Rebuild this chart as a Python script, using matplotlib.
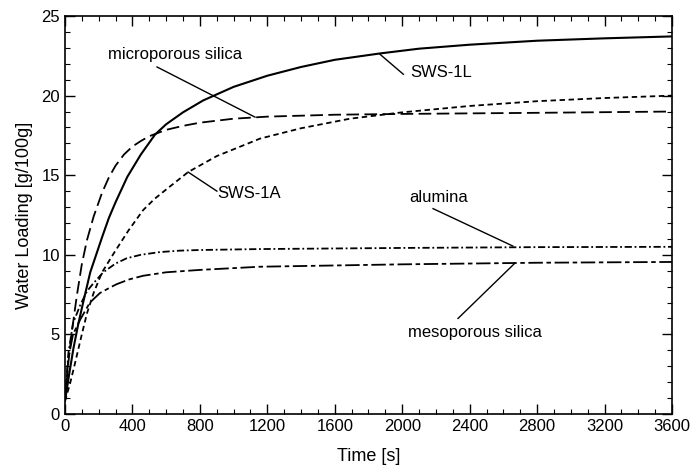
import matplotlib
matplotlib.use("Agg")
import matplotlib.pyplot as plt
from matplotlib.ticker import MultipleLocator

plt.rcParams['font.family'] = ['Liberation Sans', 'DejaVu Sans']

# SWS-1L
t_sws1l = [0, 25, 50, 80, 110, 150, 185, 220, 260, 300, 370, 450, 534, 600, 700, 820, 1000, 1200, 1400, 1600, 1868, 2100, 2400, 2800, 3200, 3600]
y_sws1l = [0.8, 2.5, 4.1, 5.7, 7.1, 8.9, 10.0, 11.1, 12.3, 13.3, 14.9, 16.3, 17.55, 18.2, 18.95, 19.7, 20.55, 21.25, 21.8, 22.25, 22.65, 22.95, 23.2, 23.45, 23.6, 23.72]

# microporous silica
t_micro = [0, 20, 40, 70, 100, 130, 170, 220, 260, 300, 350, 400, 450, 500, 600, 700, 800, 1000, 1200, 1600, 2000, 2800, 3600]
y_micro = [0.8, 3.2, 5.1, 7.4, 9.4, 10.9, 12.4, 13.9, 14.85, 15.6, 16.3, 16.8, 17.15, 17.45, 17.85, 18.1, 18.3, 18.55, 18.68, 18.8, 18.85, 18.92, 19.0]

# SWS-1A
t_sws1a = [0, 30, 60, 100, 130, 170, 220, 290, 375, 463, 530, 600, 731, 900, 1157, 1400, 1690, 2000, 2400, 2800, 3200, 3600]
y_sws1a = [0.8, 1.9, 3.2, 5.0, 6.3, 7.6, 8.9, 10.1, 11.5, 12.8, 13.5, 14.1, 15.2, 16.2, 17.3, 17.95, 18.55, 18.95, 19.35, 19.65, 19.85, 20.0]

# alumina
t_alu = [0, 20, 48, 89, 130, 168, 227, 300, 366, 450, 563, 680, 800, 1157, 2000, 2800, 3600]
y_alu = [0.8, 3.8, 5.7, 6.8, 7.7, 8.2, 8.9, 9.45, 9.78, 10.0, 10.17, 10.26, 10.3, 10.36, 10.43, 10.48, 10.5]

# mesoporous silica
t_meso = [0, 20, 48, 89, 148, 208, 260, 306, 380, 463, 600, 800, 1157, 2000, 2800, 3600]
y_meso = [0.8, 3.5, 5.0, 5.9, 7.0, 7.6, 7.9, 8.15, 8.45, 8.68, 8.9, 9.05, 9.25, 9.4, 9.5, 9.55]

fig = plt.figure(figsize=(6.91, 4.72), dpi=100)
ax = fig.add_axes([0.094, 0.123, 0.8785, 0.843])

ax.plot(t_sws1l, y_sws1l, color='black', lw=1.5, ls='-')
ax.plot(t_micro, y_micro, color='black', lw=1.3, ls=(0, (7, 3)))
ax.plot(t_sws1a, y_sws1a, color='black', lw=1.3, ls=(0, (3, 2)))
ax.plot(t_alu, y_alu, color='black', lw=1.3, ls=(0, (4, 1.5, 1, 1.5)))
ax.plot(t_meso, y_meso, color='black', lw=1.3, ls=(0, (8, 2, 2.5, 2)))

fs = 12
# annotations
ax.plot([546, 1127], [21.8, 18.65], color='black', lw=1)
ax.text(652, 22.6, 'microporous silica', fontsize=fs, ha='center', va='center')
ax.plot([1868, 2007], [22.6, 21.34], color='black', lw=1)
ax.text(2046, 21.44, 'SWS-1L', fontsize=fs, ha='left', va='center')
ax.plot([730, 901], [15.2, 14.0], color='black', lw=1)
ax.text(905, 13.85, 'SWS-1A', fontsize=fs, ha='left', va='center')
ax.plot([2183, 2656], [12.9, 10.55], color='black', lw=1)
ax.text(2040, 13.6, 'alumina', fontsize=fs, ha='left', va='center')
ax.plot([2331, 2669], [6.0, 9.48], color='black', lw=1)
ax.text(2035, 5.1, 'mesoporous silica', fontsize=fs, ha='left', va='center')

ax.set_xlim(0, 3600)
ax.set_ylim(0, 25)
ax.xaxis.set_major_locator(MultipleLocator(400))
ax.xaxis.set_minor_locator(MultipleLocator(100))
ax.yaxis.set_major_locator(MultipleLocator(5))
ax.yaxis.set_minor_locator(MultipleLocator(1))
ax.tick_params(which='both', direction='in', top=True, right=True, labelsize=12, color='black')
ax.tick_params(which='major', length=7, width=1)
ax.tick_params(which='minor', length=3.5, width=0.8)
for s in ax.spines.values():
    s.set_linewidth(1.2)
ax.set_xlabel('Time [s]', fontsize=13, labelpad=10)
ax.set_ylabel('Water Loading [g/100g]', fontsize=13, labelpad=6)

fig.savefig('out.png', dpi=100)
